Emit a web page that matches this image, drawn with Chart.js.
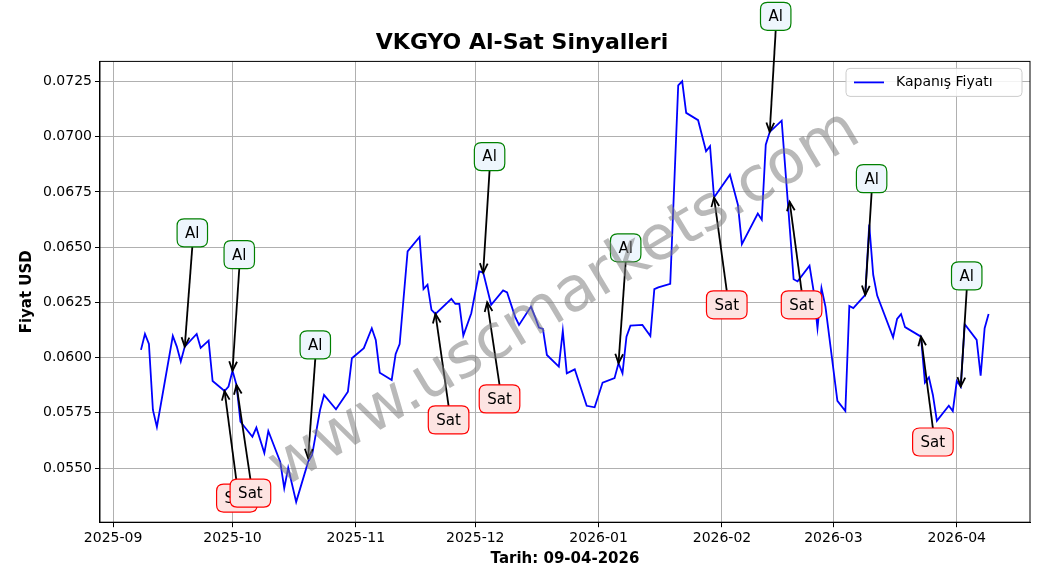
<!DOCTYPE html>
<html><head><meta charset="utf-8">
<script src="https://cdn.jsdelivr.net/npm/chart.js@4"></script>
<style>body{margin:0;background:#fff}canvas{display:block}</style>
</head><body>
<canvas id="c" width="1038" height="578"></canvas>
<script>
// days since 2025-09-01
const days = [7,8,9,10,11,15,16,17,18,21,22,24,25,28,29,30,31,32,35,36,38,39,42,43,44,46,49,50,52,53,56,59,60,63,65,66,67,70,71,72,74,77,78,79,80,81,85,86,87,88,90,92,93,95,98,99,101,102,105,106,107,108,109,112,113,114,116,119,121,123,126,127,128,129,130,133,135,136,137,140,142,143,144,147,149,150,151,155,157,158,162,163,164,165,168,171,172,175,176,177,178,179,182,184,185,186,189,190,191,192,196,197,198,199,203,204,205,206,207,210,211,212,213,214,217,218,219,220];
const prices = [0.06035,0.06107,0.06062,0.05763,0.05686,0.06098,0.06050,0.05982,0.06050,0.06107,0.06044,0.06077,0.05894,0.05849,0.05869,0.05941,0.05876,0.05710,0.05642,0.05683,0.05568,0.05668,0.05528,0.05409,0.05501,0.05347,0.05528,0.05559,0.05763,0.05831,0.05766,0.05846,0.05997,0.06043,0.06133,0.06080,0.05932,0.05899,0.06017,0.06061,0.06481,0.06546,0.06310,0.06330,0.06216,0.06198,0.06266,0.06243,0.06243,0.06100,0.06201,0.06390,0.06385,0.06239,0.06304,0.06295,0.06186,0.06148,0.06231,0.06186,0.06136,0.06130,0.06012,0.05959,0.06121,0.05929,0.05947,0.05782,0.05775,0.05887,0.05907,0.05975,0.05929,0.06095,0.06145,0.06148,0.06098,0.06310,0.06318,0.06334,0.07232,0.07251,0.07108,0.07075,0.06934,0.06957,0.06725,0.06828,0.06692,0.06514,0.06652,0.06624,0.06964,0.07022,0.07073,0.06355,0.06345,0.06416,0.06304,0.06133,0.06315,0.06231,0.05804,0.05758,0.06234,0.06224,0.06284,0.06602,0.06375,0.06281,0.06092,0.06175,0.06197,0.06138,0.06095,0.05887,0.05911,0.05831,0.05714,0.05782,0.05758,0.05894,0.05869,0.06151,0.06080,0.05918,0.06133,0.06198];
const tickDays = [0,30,61,91,122,153,181,212];
const tickLabels = ['2025-09','2025-10','2025-11','2025-12','2026-01','2026-02','2026-03','2026-04'];
// signals: [tipDay, tipValue, labelDay, labelValue]
const buySignals = [[18,0.0605,19.9,0.06565],[30,0.05941,31.7,0.06466],[49,0.05545,50.8,0.06058],[93,0.06385,94.6,0.06910],[127,0.05975,128.8,0.06497],[165,0.07022,166.5,0.07545],[189,0.06284,190.6,0.0681],[213,0.05869,214.5,0.0637]];
const sellSignals = [[28,0.05849,31.1,0.05364],[31,0.05876,34.5,0.05387],[81,0.06198,84.3,0.05718],[94,0.0625,97.1,0.05813],[151,0.06725,154.2,0.06239],[170,0.06706,173,0.06239],[203,0.06095,206,0.05618]];

const F = 'DejaVu Sans';
function rr(ctx,x,y,w,h,r){ctx.beginPath();ctx.moveTo(x+r,y);ctx.lineTo(x+w-r,y);ctx.quadraticCurveTo(x+w,y,x+w,y+r);ctx.lineTo(x+w,y+h-r);ctx.quadraticCurveTo(x+w,y+h,x+w-r,y+h);ctx.lineTo(x+r,y+h);ctx.quadraticCurveTo(x,y+h,x,y+h-r);ctx.lineTo(x,y+r);ctx.quadraticCurveTo(x,y,x+r,y);ctx.closePath();}
function drawSig(ctx,xs,ys,s,text,fill,stroke){
  const tx=xs.getPixelForValue(s[0]),ty=ys.getPixelForValue(s[1]);
  const lx=xs.getPixelForValue(s[2]),ly=ys.getPixelForValue(s[3]);
  ctx.font='15px '+F;
  const w=ctx.measureText(text).width+16,h=28;
  const sy = ty<ly ? ly-h/2 : ly+h/2;
  ctx.strokeStyle='#000';ctx.lineWidth=1.8;
  ctx.beginPath();ctx.moveTo(lx,sy);ctx.lineTo(tx,ty);ctx.stroke();
  const a=Math.atan2(ty-sy,tx-lx),L=10;
  ctx.beginPath();ctx.moveTo(tx-L*Math.cos(a-0.4),ty-L*Math.sin(a-0.4));ctx.lineTo(tx,ty);ctx.lineTo(tx-L*Math.cos(a+0.4),ty-L*Math.sin(a+0.4));ctx.stroke();
  rr(ctx,lx-w/2,ly-h/2,w,h,7);ctx.fillStyle=fill;ctx.fill();ctx.strokeStyle=stroke;ctx.lineWidth=1.2;ctx.stroke();
  ctx.fillStyle='#000';ctx.textAlign='center';ctx.textBaseline='middle';ctx.fillText(text,lx,ly+1);
}
const overlay={id:'overlay',afterDraw(chart){
  const ctx=chart.ctx,xs=chart.scales.x,ys=chart.scales.y;
  const ca=chart.chartArea;
  ctx.save();
  ctx.strokeStyle='#000';ctx.lineWidth=1;ctx.strokeRect(ca.left,ca.top,ca.right-ca.left,ca.bottom-ca.top);
  buySignals.forEach(s=>drawSig(ctx,xs,ys,s,'Al','#eef6fd','green'));
  sellSignals.forEach(s=>drawSig(ctx,xs,ys,s,'Sat','#fde4e2','red'));
  const bx=ca.right-184,by=ca.top+7;
  rr(ctx,bx,by,176,28,4);ctx.fillStyle='rgba(255,255,255,0.85)';ctx.fill();ctx.strokeStyle='#ccc';ctx.lineWidth=1;ctx.stroke();
  ctx.strokeStyle='blue';ctx.lineWidth=1.8;ctx.beginPath();ctx.moveTo(bx+8,by+14);ctx.lineTo(bx+38,by+14);ctx.stroke();
  ctx.fillStyle='#000';ctx.font='14px '+F;ctx.textAlign='left';ctx.textBaseline='middle';ctx.fillText('Kapanış Fiyatı',bx+50,by+14);
  ctx.translate(565,300);ctx.rotate(-31*Math.PI/180);
  ctx.fillStyle='rgba(128,128,128,0.55)';ctx.font='62px '+F;ctx.textAlign='center';ctx.fillText('www.uscmarkets.com',0,0);
  ctx.restore();
}};
new Chart(document.getElementById('c'),{
  type:'line',
  data:{datasets:[{label:'Kapanış Fiyatı',data:days.map((d,i)=>({x:d,y:prices[i]})),borderColor:'blue',borderWidth:1.8,pointRadius:0,tension:0}]},
  options:{responsive:false,animation:false,
    layout:{padding:{top:0,right:8,left:14,bottom:6}},
    plugins:{legend:{display:false},tooltip:{enabled:false},
      title:{display:true,text:'VKGYO Al-Sat Sinyalleri',color:'#000',font:{family:F,size:22,weight:'bold'},padding:{top:30,bottom:5}}},
    scales:{
      x:{type:'linear',min:-3.3,max:230.4,
        afterBuildTicks:a=>{a.ticks=tickDays.map(v=>({value:v}));},
        ticks:{callback:v=>tickLabels[tickDays.indexOf(v)]||'',color:'#000',font:{family:F,size:14},maxRotation:0,autoSkip:false},
        grid:{color:'#b0b0b0',tickColor:'#000',tickLength:5},border:{color:'#000'},
        title:{display:true,text:'Tarih: 09-04-2026',color:'#000',font:{family:F,size:15,weight:'bold'},padding:{top:0}}},
      y:{min:0.05255,max:0.07341,
        afterBuildTicks:a=>{const t=[];for(let i=0;i<8;i++)t.push({value:0.055+i*0.0025});a.ticks=t;},
        ticks:{callback:v=>v.toFixed(4),color:'#000',font:{family:F,size:14}},
        grid:{color:'#b0b0b0',tickColor:'#000',tickLength:5},border:{color:'#000'},
        title:{display:true,text:'Fiyat USD',color:'#000',font:{family:F,size:15,weight:'bold'}}}
    }},
  plugins:[overlay]
});
</script></body></html>
